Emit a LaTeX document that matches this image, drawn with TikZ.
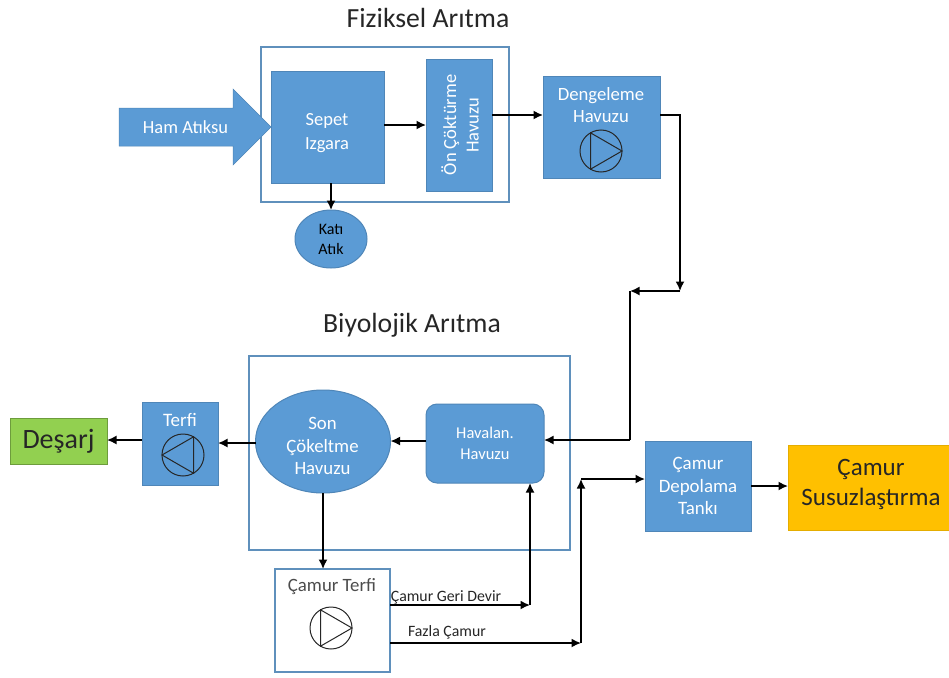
\documentclass[tikz,border=0pt]{standalone}
\usepackage{fontspec}
\setmainfont{Carlito}
\usetikzlibrary{arrows.meta,shapes.geometric}
\definecolor{blu}{HTML}{5B9BD5}
\definecolor{blued}{HTML}{4F86B8}
\definecolor{framec}{HTML}{5F90BC}
\definecolor{grn}{HTML}{92D050}
\definecolor{amb}{HTML}{FFC000}
\definecolor{ttl}{HTML}{262626}
\newcommand{\fsz}[1]{\fontsize{#1}{#1}\selectfont}
\tikzset{
  px/.style={inner sep=0pt,outer sep=0pt,align=center},
  bluebox/.style={px,draw=blued,line width=1pt,fill=blu,text=white},
  blueell/.style={px,ellipse,draw=blued,line width=1pt,fill=blu},
  framebox/.style={px,draw=framec,line width=1.6pt,fill=white},
  titletext/.style={px,text=ttl,font=\fsz{27.7}},
  flow/.style={draw=black,line width=1.6pt,-{Latex[length=9.5pt,width=9pt]}},
  plain/.style={draw=black,line width=1.6pt},
  pumpc/.style={px,circle,draw=black!85,line width=1pt,minimum size=42pt},
  lbl/.style={px,text=black!85,font=\fsz{15.8}}
}
\newcommand{\pumptri}[1]{\draw[black!85,line width=1pt] (#1.0) -- (#1.120) -- (#1.240) -- cycle;}
\newcommand{\pumptril}[1]{\draw[black!85,line width=1pt] (#1.180) -- (#1.60) -- (#1.300) -- cycle;}
\begin{document}
\begin{tikzpicture}[x=1pt,y=-1pt]
\useasboundingbox (0,0) rectangle (949,677);
% titles
\node[titletext] (t1) at (428,18) {Fiziksel Arıtma};
\node[titletext] (t2) at (412,325) {Biyolojik Arıtma};
% frames
\node[framebox,minimum width=248pt,minimum height=155pt] (f1) at (385,124.5) {};
\node[framebox,minimum width=321pt,minimum height=194pt] (f2) at (409.5,453) {};
% big input arrow
\fill[blu,draw=blued,line width=.5pt] (119,108) -- (233,108) -- (233,89) -- (271,127) -- (233,165) -- (233,146) -- (119,146) -- cycle;
\node[px,text=white,font=\fsz{18.5}] (ham) at (185.5,127) {Ham Atıksu};
% top row
\node[bluebox,minimum width=113pt,minimum height=112pt] (sepet) at (327.5,127) {};
\node[px,text=white,font=\fsz{18.5}] (sepett) at (327,133) {Sepet\\[5.5pt]Izgara};
\node[bluebox,minimum width=66pt,minimum height=132pt] (on) at (459,125) {};
\node[px,text=white,rotate=90,font=\fsz{18.5}] (ontx) at (460,125) {Ön Çöktürme\\[4pt]Havuzu};
\node[bluebox,minimum width=117pt,minimum height=102pt] (deng) at (601.5,127) {};
\node[px,text=white,font=\fsz{18.7}] (dengt) at (601,105) {Dengeleme\\[3.5pt]Havuzu};
\node[pumpc] (p1) at (601,151) {};
\pumptri{p1}
\node[blueell,minimum width=72pt,minimum height=58pt] (kati) at (331,239) {};
\node[px,text=black,font=\fsz{16}] (katit) at (331,239) {Katı\\[4pt]Atık};
% bottom row
\node[bluebox,rounded corners=11pt,minimum width=118pt,minimum height=79pt,font=\fsz{16.5}] (hav) at (485,443.5) {Havalan.\\[4pt]Havuzu};
\node[blueell,minimum width=135pt,minimum height=103pt] (son) at (323,441.5) {};
\node[px,text=white,font=\fsz{18.8}] (sont) at (322.5,446) {Son\\[3.5pt]Çökeltme\\[3.5pt]Havuzu};
\node[bluebox,minimum width=76pt,minimum height=83pt] (terfi) at (180,443.5) {};
\node[px,text=white,font=\fsz{19}] (terfit) at (180,420) {Terfi};
\node[pumpc] (p2) at (183,455) {};
\pumptril{p2}
\node[px,draw=grn!75!black,line width=1pt,fill=grn,minimum width=97pt,minimum height=46pt,font=\fsz{28},text=black!85] (desarj) at (58.5,441) {Deşarj};
\node[px,draw=framec,line width=1.6pt,fill=white,minimum width=115pt,minimum height=103pt] (ct) at (332.5,620.5) {};
\node[px,text=black!70,font=\fsz{18.8}] (ctt) at (332,587) {Çamur Terfi};
\node[pumpc] (p3) at (331,628) {};
\pumptri{p3}
\node[bluebox,minimum width=106pt,minimum height=90pt,font=\fsz{18.9}] (dep) at (698,486) {Çamur\\[4pt]Depolama\\[4pt]Tankı};
\node[px,draw=amb!90!black,line width=.8pt,fill=amb,minimum width=161pt,minimum height=85pt] (sus) at (868.5,487.5) {};
\node[px,text=black!85,font=\fsz{25}] (sust) at (871,484) {Çamur\\[5pt]Susuzlaştırma};
% labels
\node[lbl] (l1) at (446,597) {Çamur Geri Devir};
\node[lbl] (l2) at (447,632) {Fazla Çamur};
% free ends
\coordinate (c1) at (680,291);
\coordinate (c2) at (630,291);
\coordinate (c3) at (630,440);
\coordinate (c4) at (530,605);
\coordinate (c5) at (581,643);
\coordinate (c6) at (581,479);
% connectors
\draw[flow] (sepet.east |- on.west) -- (on.west);
\draw[flow] (on.east |- 0,115) -- (deng.west |- 0,115);
\draw[flow] (sepet.south -| kati.north) -- (kati.north);
\draw[flow] (deng.east |- 0,115) -| (c1);
\draw[flow] (c1) -- (c2);
\draw[plain] (c2) -- (c3);
\draw[flow] (c3) -- (hav.east |- c3);
\draw[flow] (hav.west |- 0,441) -- (son.east |- 0,441);
\draw[flow] (son.west |- 0,443) -- (terfi.east |- 0,443);
\draw[flow] (terfi.west |- 0,440) -- (desarj.east |- 0,440);
\draw[flow] (son.south) -- (son.south |- ct.north);
\draw[flow] (ct.east |- c4) -- (c4);
\draw[flow] (c4) -- (c4 |- hav.south);
\draw[flow] (ct.east |- c5) -- (c5);
\draw[flow] (c5) -- (c6);
\draw[flow] (c6) -- (dep.west |- c6);
\draw[flow] (dep.east) -- (sus.west |- dep.east);
\end{tikzpicture}
\end{document}
